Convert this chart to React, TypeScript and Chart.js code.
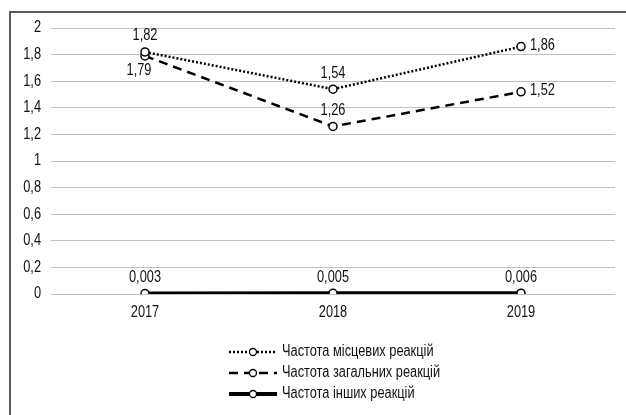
import React, { useEffect, useRef } from "react";
import { Chart, registerables } from "chart.js";

Chart.register(...registerables);

const categories = ["2017", "2018", "2019"];
const localValues = [1.82, 1.54, 1.86];
const generalValues = [1.79, 1.26, 1.52];
const otherValues = [0.003, 0.005, 0.006];
const seriesNames = [
  "Частота місцевих реакцій",
  "Частота загальних реакцій",
  "Частота інших реакцій",
];
const yMin = 0;
const yMax = 2;
const yStep = 0.2;

const FONT = "'Liberation Sans', Arial, sans-serif";
const FONT_SIZE = 16;
const SQUEEZE = 0.8;
const TEXT = "#111111";

// label placement per dataset per point
const labelPlacement = [
  ["top", "top", "right"],
  ["bottom", "top", "right"],
  ["top", "top", "top"],
];

const fmt = (v: number) => String(v).replace(".", ",");

function narrowText(ctx: any, text: string, x: number, y: number, align: string) {
  ctx.save();
  ctx.font = `${FONT_SIZE}px ${FONT}`;
  ctx.fillStyle = TEXT;
  ctx.textAlign = align;
  ctx.textBaseline = "middle";
  ctx.translate(x, y);
  ctx.scale(SQUEEZE, 1);
  ctx.fillText(text, 0, 0);
  ctx.restore();
}

const labelsPlugin = {
  id: "valueLabels",
  afterDatasetsDraw(chart: any) {
    const ctx = chart.ctx;
    chart.data.datasets.forEach((ds: any, di: number) => {
      const meta = chart.getDatasetMeta(di);
      meta.data.forEach((pt: any, i: number) => {
        const txt = fmt(ds.data[i]);
        const pos = labelPlacement[di][i];
        if (pos === "top") {
          narrowText(ctx, txt, pt.x, pt.y - 16, "center");
        } else if (pos === "bottom") {
          narrowText(ctx, txt, pt.x - 6, pt.y + 15, "center");
        } else {
          narrowText(ctx, txt, pt.x + 9, pt.y - 1, "left");
        }
      });
    });
  },
};

const axisTextPlugin = {
  id: "axisText",
  afterDraw(chart: any) {
    const ctx = chart.ctx;
    const ys = chart.scales.y;
    ys.ticks.forEach((t: any) => {
      const py = ys.getPixelForValue(t.value);
      const s = String(Number(Number(t.value).toFixed(1))).replace(".", ",");
      narrowText(ctx, s, 41, py, "right");
    });
    const xs = chart.scales.x;
    categories.forEach((c, i) => {
      narrowText(ctx, c, xs.getPixelForValue(i), chart.chartArea.bottom + 19, "center");
    });
  },
};

const framePlugin = {
  id: "frame",
  beforeDraw(chart: any) {
    const ctx = chart.ctx;
    ctx.save();
    ctx.fillStyle = "#ffffff";
    ctx.fillRect(0, 0, chart.width, chart.height);
    ctx.strokeStyle = "#5a5a5a";
    ctx.lineWidth = 2;
    ctx.beginPath();
    ctx.moveTo(10, chart.height + 5);
    ctx.lineTo(10, 12);
    ctx.lineTo(chart.width + 5, 12);
    ctx.stroke();
    ctx.restore();
  },
};

const legendPlugin = {
  id: "customLegend",
  afterDraw(chart: any) {
    const ctx = chart.ctx;
    ctx.save();
    const x0 = 229;
    const x1 = 277;
    const rows = [352, 373, 394];
    chart.data.datasets.forEach((ds: any, di: number) => {
      const y = rows[di];
      ctx.strokeStyle = "#000";
      ctx.lineWidth = ds.borderWidth;
      ctx.setLineDash(ds.borderDash || []);
      ctx.beginPath();
      ctx.moveTo(x0, y);
      ctx.lineTo(x1, y);
      ctx.stroke();
      ctx.setLineDash([]);
      ctx.beginPath();
      ctx.arc((x0 + x1) / 2, y, 3.5, 0, Math.PI * 2);
      ctx.fillStyle = "#fff";
      ctx.fill();
      ctx.lineWidth = 1.3;
      ctx.stroke();
      narrowText(ctx, seriesNames[di], x1 + 5, y, "left");
    });
    ctx.restore();
  },
};

export default function App() {
  const ref = useRef<HTMLCanvasElement>(null);
  useEffect(() => {
    if (!ref.current) return;
    const common = {
      borderColor: "#000",
      pointRadius: 4,
      pointBorderWidth: 1.5,
      pointBorderColor: "#000",
      pointBackgroundColor: "#fff",
      pointStyle: "circle",
      tension: 0,
      fill: false,
    };
    const chart = new Chart(ref.current, {
      type: "line",
      data: {
        labels: categories,
        datasets: [
          { ...common, label: seriesNames[0], data: localValues, borderWidth: 2.5, borderDash: [2, 2] },
          { ...common, label: seriesNames[1], data: generalValues, borderWidth: 2.5, borderDash: [9, 6] },
          { ...common, label: seriesNames[2], data: otherValues, borderWidth: 4, borderDash: [] },
        ],
      },
      options: {
        responsive: false,
        animation: false,
        layout: { padding: { left: 10, right: 11, top: 28, bottom: 0 } },
        plugins: { legend: { display: false }, tooltip: { enabled: false } },
        scales: {
          x: {
            offset: true,
            grid: { display: false, drawTicks: false },
            border: { display: false },
            ticks: { display: false },
            afterFit: (s: any) => {
              s.height = 121;
            },
          },
          y: {
            min: yMin,
            max: yMax,
            grid: { color: "#bfbfbf", lineWidth: 1, drawTicks: false },
            border: { display: false },
            ticks: { display: false, stepSize: yStep },
            afterFit: (s: any) => {
              s.width = 41;
            },
          },
        },
      },
      plugins: [framePlugin, labelsPlugin, axisTextPlugin, legendPlugin],
    } as any);
    return () => chart.destroy();
  }, []);
  return (
    <div style={{ position: "absolute", left: 0, top: 0, width: 626, height: 415 }}>
      <canvas ref={ref} width={626} height={415} style={{ width: 626, height: 415 }} />
    </div>
  );
}
